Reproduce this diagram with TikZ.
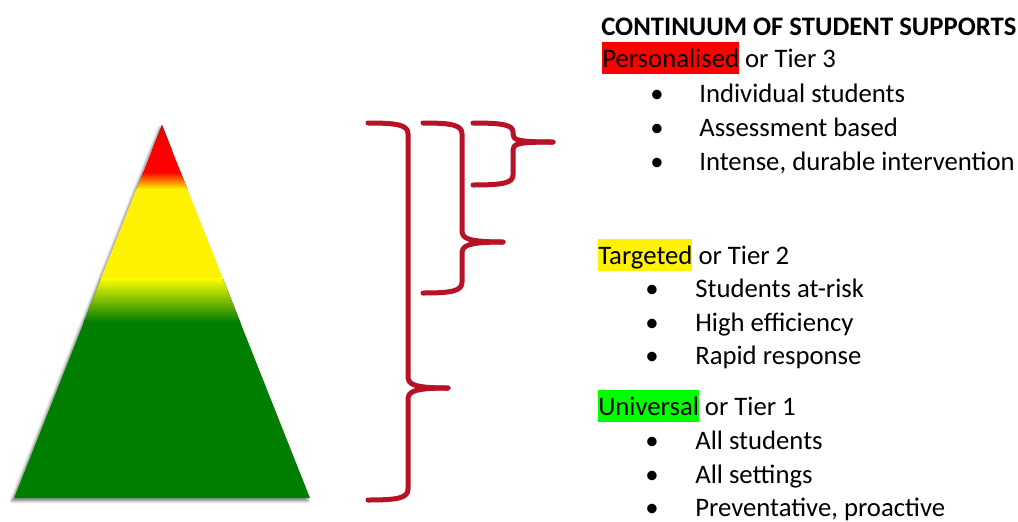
\documentclass[tikz,border=0pt]{standalone}
\usepackage{fontspec}
\setmainfont{Carlito}
\usetikzlibrary{shadows.blur}

\definecolor{bracered}{RGB}{183,18,38}
\definecolor{pyrgreen}{RGB}{0,126,0}
\definecolor{hlgreen}{RGB}{0,255,0}

% highlighted tier name
\newcommand{\tiermark}[2]{{\setlength{\fboxsep}{0pt}\colorbox{#1}{\rule[-0.175cm]{0pt}{0.8cm}#2}}}

\tikzset{
  tierbrace/.style={draw=bracered, line width=0.125cm, line cap=round, line join=round},
  txt/.style={anchor=base west, inner sep=0pt, font=\fontsize{19}{22}\selectfont},
  dot/.style={anchor=base, inner sep=0pt, font=\fontsize{19}{22}\selectfont},
}

\begin{document}
\begin{tikzpicture}[x=0.025cm, y=-0.025cm]
    \useasboundingbox (0,0) rectangle (1018,521);
    \coordinate (apex) at (162,125);
    \coordinate (baseL) at (14,498);
    \coordinate (baseR) at (310,498);

    % pyramid
    \path[fill=white, blur shadow={shadow xshift=-1.5pt, shadow yshift=-2pt, shadow blur radius=2pt, shadow opacity=55}]
      (apex) -- (baseL) -- (baseR) -- cycle;
    \begin{scope}
      \clip (apex) -- (baseL) -- (baseR) -- cycle;
      \fill[top color=red!88!black, bottom color=red] (0,120) rectangle (330,150);
      \fill[red] (0,149) rectangle (330,173);
      \fill[top color=red, bottom color=yellow, middle color=orange] (0,172) rectangle (330,190);
      \fill[yellow] (0,189) rectangle (330,279);
      \fill[top color=yellow, bottom color=pyrgreen] (0,278) rectangle (330,322);
      \fill[pyrgreen] (0,321) rectangle (330,505);
    \end{scope}

    % braces
    \draw[tierbrace] (368,123) .. controls (398,123) and (408,125) .. (408,134) -- (408,376)
      .. controls (408,384) and (412,388) .. (448,388);
    \draw[tierbrace] (448,388) .. controls (412,388) and (408,392) .. (408,400) -- (408,489)
      .. controls (408,498) and (398,500) .. (368,500);
    \draw[tierbrace] (423,123) .. controls (452,123) and (462,125) .. (462,134) -- (462,230)
      .. controls (462,238) and (466,242) .. (503,242);
    \draw[tierbrace] (503,242) .. controls (466,242) and (462,246) .. (462,254) -- (462,282)
      .. controls (462,291) and (452,293) .. (423,293);
    \draw[tierbrace] (473,123) .. controls (503,123) and (513,125) .. (513,132) -- (513,134)
      .. controls (513,140) and (517,142) .. (553,142);
    \draw[tierbrace] (553,142) .. controls (517,142) and (513,144) .. (513,150) -- (513,175)
      .. controls (513,183) and (503,185) .. (473,185);

    % text
    \node[txt, font=\fontsize{19}{22}\selectfont\bfseries] (title) at (601,35) {CONTINUUM OF STUDENT SUPPORTS};

    \node[txt] (tier3) at (602,67) {\tiermark{red}{Personalised} or Tier 3};
    \node[dot] (d3a) at (657,102) {\textbullet};
    \node[txt] (t3a) at (699,102) {Individual students};
    \node[dot] (d3b) at (657,136) {\textbullet};
    \node[txt] (t3b) at (699,136) {Assessment based};
    \node[dot] (d3c) at (657,170) {\textbullet};
    \node[txt] (t3c) at (699,170) {Intense, durable intervention};

    \node[txt] (tier2) at (598,264) {\tiermark{yellow}{Targeted} or Tier 2};
    \node[dot] (d2a) at (652,297) {\textbullet};
    \node[txt] (t2a) at (695,297) {Students at-risk};
    \node[dot] (d2b) at (652,331) {\textbullet};
    \node[txt] (t2b) at (695,331) {High efficiency};
    \node[dot] (d2c) at (652,364) {\textbullet};
    \node[txt] (t2c) at (695,364) {Rapid response};

    \node[txt] (tier1) at (598,415) {\tiermark{hlgreen}{Universal} or Tier 1};
    \node[dot] (d1a) at (652,449) {\textbullet};
    \node[txt] (t1a) at (695,449) {All students};
    \node[dot] (d1b) at (652,483) {\textbullet};
    \node[txt] (t1b) at (695,483) {All settings};
    \node[dot] (d1c) at (652,516) {\textbullet};
    \node[txt] (t1c) at (695,516) {Preventative, proactive};
\end{tikzpicture}
\end{document}
